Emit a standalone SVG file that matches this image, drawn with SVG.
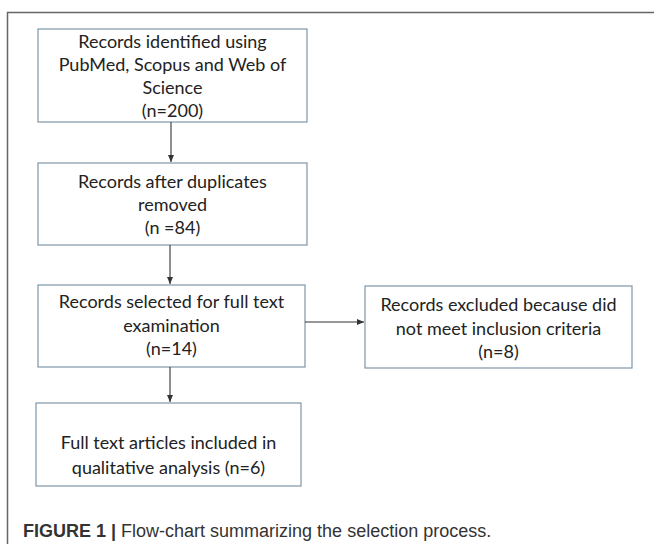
<svg xmlns="http://www.w3.org/2000/svg" width="654" height="544" viewBox="0 0 654 544">
<style>
.box{fill:#ffffff;stroke:#7d97a8;stroke-width:1.2}
.t{font-family:Lato,"Open Sans",sans-serif;font-size:18px;fill:#222;text-anchor:middle}
.c{stroke:#333;stroke-width:1.1;fill:none}
.cap{font-family:"Liberation Sans",Arial,sans-serif;font-size:18px;fill:#333}
</style>
<defs>
<marker id="ah" markerWidth="8" markerHeight="8" refX="7" refY="4" orient="auto" markerUnits="userSpaceOnUse">
<path d="M0,1 L7,4 L0,7 Z" fill="#333"/>
</marker>
</defs>
<rect width="654" height="544" fill="#ffffff"/>
<path d="M7.5,544 V12.5 H654" fill="none" stroke="#666" stroke-width="1.5"/>
<g id="n1">
<rect class="box" x="38" y="29" width="269" height="93"/>
<text class="t" x="172.5" y="48">Records identified using</text>
<text class="t" x="172.5" y="71">PubMed, Scopus and Web of</text>
<text class="t" x="172.5" y="94">Science</text>
<text class="t" x="172.5" y="117">(n=200)</text>
</g>
<g id="n2">
<rect class="box" x="38" y="163" width="269" height="82"/>
<text class="t" x="172.5" y="188">Records after duplicates</text>
<text class="t" x="172.5" y="211">removed</text>
<text class="t" x="172.5" y="234">(n =84)</text>
</g>
<g id="n3">
<rect class="box" x="38" y="285" width="267" height="82"/>
<text class="t" x="171.5" y="308">Records selected for full text</text>
<text class="t" x="171.5" y="332">examination</text>
<text class="t" x="171.5" y="355">(n=14)</text>
</g>
<g id="n4">
<rect class="box" x="365" y="286" width="267" height="82"/>
<text class="t" x="498.5" y="311">Records excluded because did</text>
<text class="t" x="498.5" y="335">not meet inclusion criteria</text>
<text class="t" x="498.5" y="358">(n=8)</text>
</g>
<g id="n5">
<rect class="box" x="36" y="403" width="265" height="83"/>
<text class="t" x="168.5" y="449">Full text articles included in</text>
<text class="t" x="168.5" y="474">qualitative analysis (n=6)</text>
</g>
<g id="connectors">
<line class="c" x1="171" y1="122" x2="171" y2="162" marker-end="url(#ah)"/>
<line class="c" x1="170" y1="245" x2="170" y2="284" marker-end="url(#ah)"/>
<line class="c" x1="305" y1="322" x2="364" y2="322" marker-end="url(#ah)"/>
<line class="c" x1="170" y1="367" x2="170" y2="402" marker-end="url(#ah)"/>
</g>
<text class="cap" x="23" y="537"><tspan font-weight="bold">FIGURE 1 |</tspan> Flow-chart summarizing the selection process.</text>
</svg>
